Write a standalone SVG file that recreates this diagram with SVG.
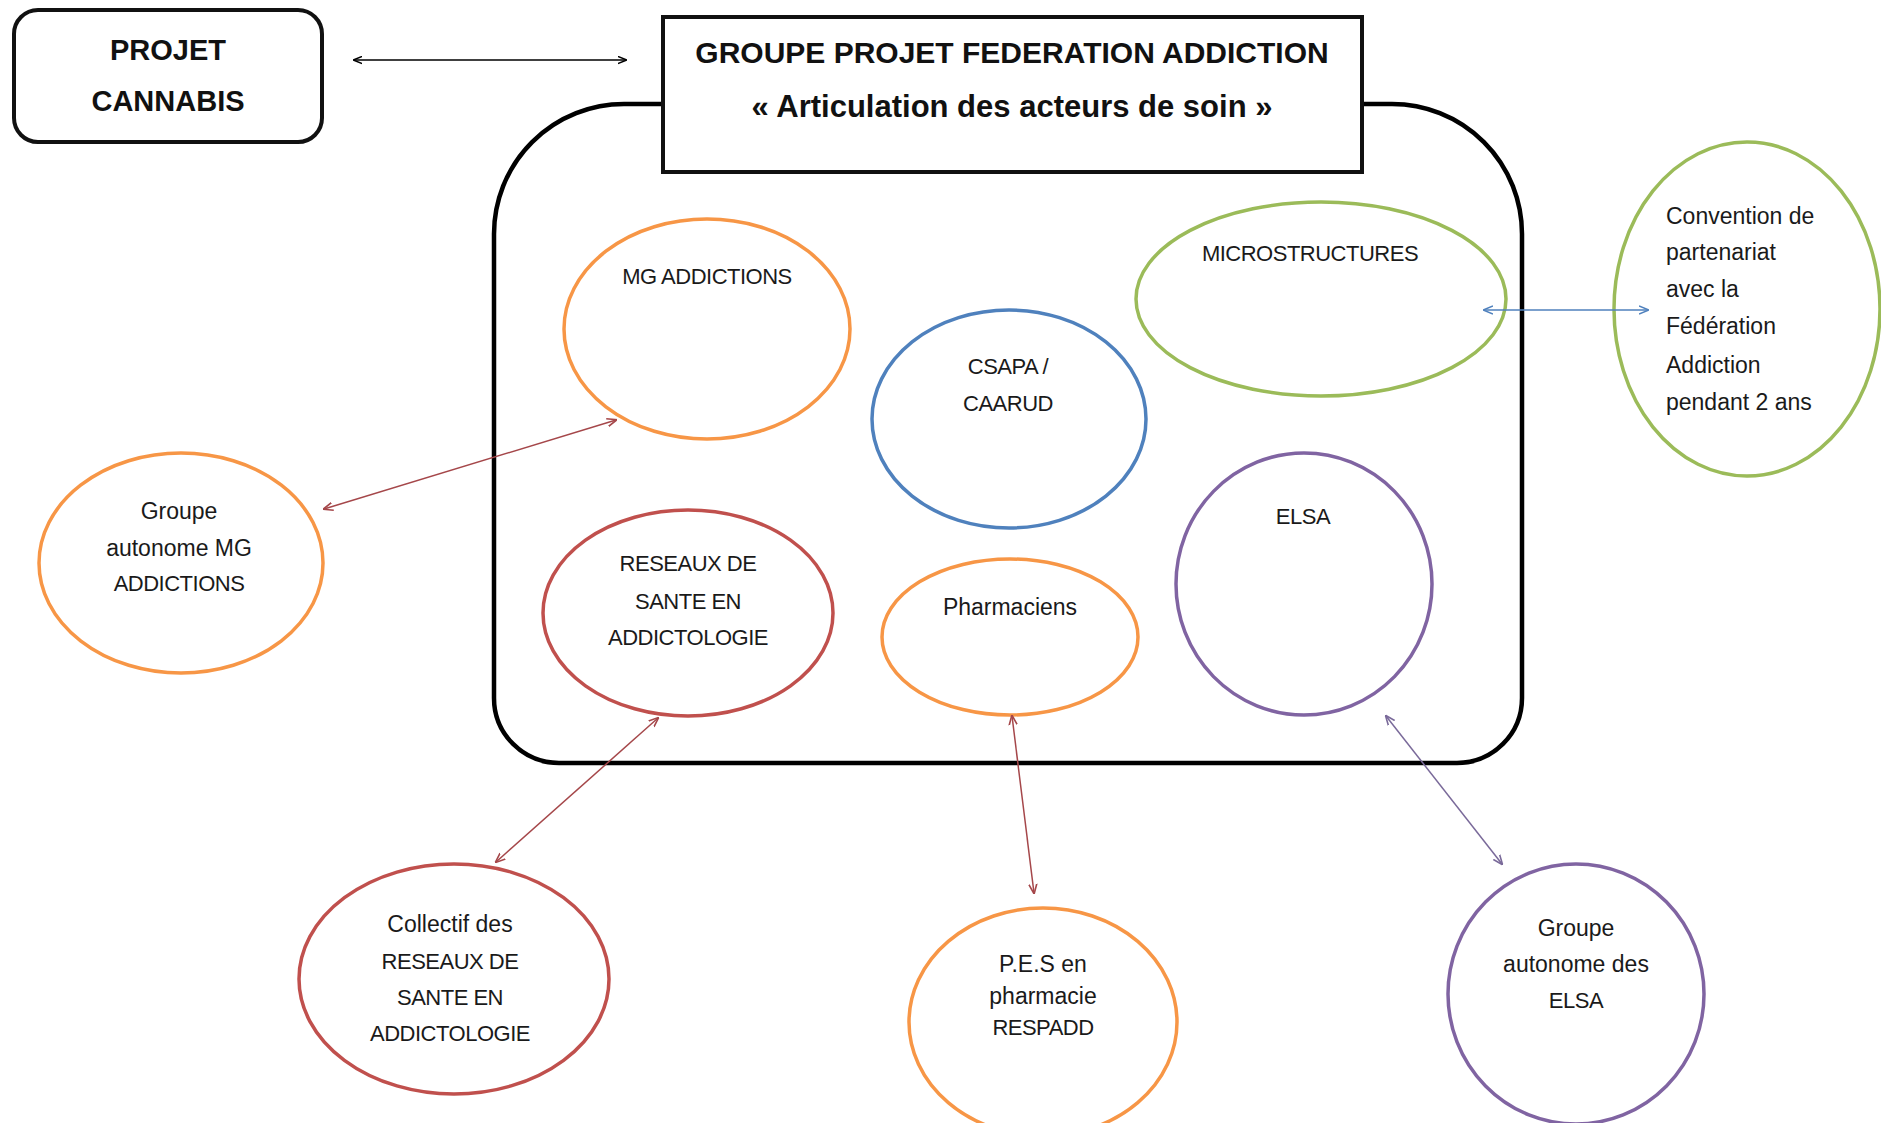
<svg xmlns="http://www.w3.org/2000/svg" width="1881" height="1123" viewBox="0 0 1881 1123">
<style>
.t{font-family:"Liberation Sans",Arial,sans-serif;font-size:22px;letter-spacing:-0.5px;fill:#1a1a1a;text-anchor:middle}
.tl{font-family:"Liberation Sans",Arial,sans-serif;font-size:23px;fill:#1a1a1a;text-anchor:middle}
.b{font-family:"Liberation Sans",Arial,sans-serif;font-weight:bold;fill:#111;text-anchor:middle}
.e{fill:#fff;stroke-width:3.5}
.or{stroke:#f79646}.bl{stroke:#4f81bd}.gr{stroke:#9bbb59}.rd{stroke:#c0504d}.pu{stroke:#8064a2}
.c{fill:none;stroke-width:1.5}
</style>
<defs>
<marker id="ak" viewBox="0 0 10 10" refX="9" refY="5" markerWidth="9" markerHeight="9" markerUnits="userSpaceOnUse" orient="auto-start-reverse"><path d="M0,1 L10,5 L0,9" fill="none" stroke="#000" stroke-width="1.6"/></marker>
<marker id="ar" viewBox="0 0 10 10" refX="9" refY="5" markerWidth="10" markerHeight="10" markerUnits="userSpaceOnUse" orient="auto-start-reverse"><path d="M0,1 L10,5 L0,9" fill="none" stroke="#a5474a" stroke-width="1.6"/></marker>
<marker id="ap" viewBox="0 0 10 10" refX="9" refY="5" markerWidth="10" markerHeight="10" markerUnits="userSpaceOnUse" orient="auto-start-reverse"><path d="M0,1 L10,5 L0,9" fill="none" stroke="#7a6a9a" stroke-width="1.6"/></marker>
<marker id="ab" viewBox="0 0 10 10" refX="9" refY="5" markerWidth="10" markerHeight="10" markerUnits="userSpaceOnUse" orient="auto-start-reverse"><path d="M0,1 L10,5 L0,9" fill="none" stroke="#4f81bd" stroke-width="1.6"/></marker>
</defs>
<rect width="1881" height="1123" fill="#fff"/>
<g id="container">
<path d="M624,104 H1392 A130,130 0 0 1 1522,234 V698 A65,65 0 0 1 1457,763 H559 A65,65 0 0 1 494,698 V234 A130,130 0 0 1 624,104 Z" fill="none" stroke="#000" stroke-width="4.5"/>
</g>
<g id="projet-cannabis">
<rect x="14" y="10" width="308" height="132" rx="24" fill="#fff" stroke="#111" stroke-width="4"/>
<text class="b" x="168" y="60" font-size="29">PROJET</text>
<text class="b" x="168" y="111" font-size="29">CANNABIS</text>
</g>
<g id="groupe-projet">
<rect x="663" y="17" width="699" height="155" fill="#fff" stroke="#111" stroke-width="4"/>
<text class="b" x="1012" y="63" font-size="30">GROUPE PROJET FEDERATION ADDICTION</text>
<text class="b" x="1012" y="117" font-size="31">« Articulation des acteurs de soin »</text>
</g>
<g id="mg-addictions">
<ellipse class="e or" cx="707" cy="329" rx="143" ry="110"/>
<text class="t" x="707" y="284">MG ADDICTIONS</text>
</g>
<g id="csapa">
<ellipse class="e bl" cx="1009" cy="419" rx="137" ry="109"/>
<text class="t" x="1008" y="374">CSAPA /</text>
<text class="t" x="1008" y="411">CAARUD</text>
</g>
<g id="microstructures">
<ellipse class="e gr" cx="1321" cy="299" rx="185" ry="97"/>
<text class="t" x="1310" y="261">MICROSTRUCTURES</text>
</g>
<g id="reseaux">
<ellipse class="e rd" cx="688" cy="613" rx="145" ry="103"/>
<text class="t" x="688" y="571">RESEAUX DE</text>
<text class="t" x="688" y="609">SANTE EN</text>
<text class="t" x="688" y="645">ADDICTOLOGIE</text>
</g>
<g id="pharmaciens">
<ellipse class="e or" cx="1010" cy="637" rx="128" ry="78"/>
<text class="tl" x="1010" y="615">Pharmaciens</text>
</g>
<g id="elsa">
<ellipse class="e pu" cx="1304" cy="584" rx="128" ry="131"/>
<text class="t" x="1303" y="524">ELSA</text>
</g>
<g id="convention">
<ellipse class="e gr" cx="1747" cy="309" rx="133" ry="167"/>
<g class="tl" style="text-anchor:start">
<text x="1666" y="224">Convention de</text>
<text x="1666" y="260">partenariat</text>
<text x="1666" y="297">avec la</text>
<text x="1666" y="334">Fédération</text>
<text x="1666" y="373">Addiction</text>
<text x="1666" y="410">pendant 2 ans</text>
</g>
</g>
<g id="groupe-mg">
<ellipse class="e or" cx="181" cy="563" rx="142" ry="110"/>
<text class="tl" x="179" y="519">Groupe</text>
<text class="tl" x="179" y="556">autonome MG</text>
<text class="t" x="179" y="591">ADDICTIONS</text>
</g>
<g id="collectif">
<ellipse class="e rd" cx="454" cy="979" rx="155" ry="115"/>
<text class="tl" x="450" y="932">Collectif des</text>
<text class="t" x="450" y="969">RESEAUX DE</text>
<text class="t" x="450" y="1005">SANTE EN</text>
<text class="t" x="450" y="1041">ADDICTOLOGIE</text>
</g>
<g id="pes">
<ellipse class="e or" cx="1043" cy="1022" rx="134" ry="114"/>
<text class="tl" x="1043" y="972">P.E.S en</text>
<text class="tl" x="1043" y="1004">pharmacie</text>
<text class="t" x="1043" y="1035">RESPADD</text>
</g>
<g id="groupe-elsa">
<ellipse class="e pu" cx="1576" cy="994" rx="128" ry="130"/>
<text class="tl" x="1576" y="936">Groupe</text>
<text class="tl" x="1576" y="972">autonome des</text>
<text class="t" x="1576" y="1008">ELSA</text>
</g>
<g id="connectors">
<line class="c" x1="354" y1="60" x2="626" y2="60" stroke="#000" marker-start="url(#ak)" marker-end="url(#ak)"/>
<line class="c" x1="324" y1="509" x2="616" y2="420" stroke="#a5474a" marker-start="url(#ar)" marker-end="url(#ar)"/>
<line class="c" x1="658" y1="718" x2="496" y2="862" stroke="#a5474a" marker-start="url(#ar)" marker-end="url(#ar)"/>
<line class="c" x1="1012" y1="716" x2="1034" y2="893" stroke="#a5474a" marker-start="url(#ar)" marker-end="url(#ar)"/>
<line class="c" x1="1386" y1="716" x2="1502" y2="864" stroke="#7a6a9a" marker-start="url(#ap)" marker-end="url(#ap)"/>
<line class="c" x1="1484" y1="310" x2="1648" y2="310" stroke="#4f81bd" marker-start="url(#ab)" marker-end="url(#ab)"/>
</g>
</svg>
